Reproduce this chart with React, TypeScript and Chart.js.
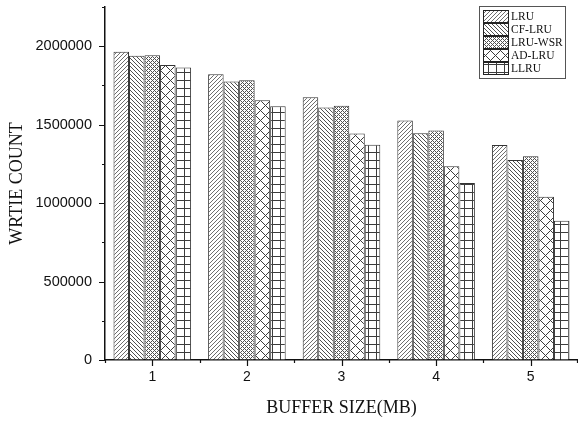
import React, { useEffect, useRef } from 'react';
import { Chart, registerables } from 'chart.js';

Chart.register(...registerables);

const categories = ['1', '2', '3', '4', '5'];
const seriesNames = ['LRU', 'CF-LRU', 'LRU-WSR', 'AD-LRU', 'LLRU'];
const lruValues = [1965000, 1822000, 1675000, 1527000, 1370000];
const cfLruValues = [1940000, 1775000, 1610000, 1445000, 1275000];
const lruWsrValues = [1943000, 1783000, 1620000, 1463000, 1298000];
const adLruValues = [1880000, 1655000, 1443000, 1235000, 1040000];
const llruValues = [1865000, 1617000, 1372000, 1128000, 887000];
const yMax = 2250000;
const yMajorStep = 500000;
const yMinorStep = 250000;

type PatternKind = 'slash' | 'backslash' | 'fine' | 'diamond' | 'grid';
const patternKinds: PatternKind[] = ['slash', 'backslash', 'fine', 'diamond', 'grid'];

function makePattern(kind: PatternKind): CanvasPattern | string {
  const size = kind === 'diamond' ? 10 : kind === 'grid' ? 8 : 4;
  const c = document.createElement('canvas');
  c.width = size;
  c.height = size;
  const ctx = c.getContext('2d');
  if (!ctx) return '#fff';
  const img = ctx.createImageData(size, size);
  for (let y = 0; y < size; y++) {
    for (let x = 0; x < size; x++) {
      let on = false;
      let col = 80;
      if (kind === 'slash') { on = (x + y) % size === 0; col = 110; }
      if (kind === 'backslash') { on = (x - y + size) % size === 0; col = 80; }
      if (kind === 'fine') { on = (x + y) % size === 0 || (x - y + size) % size === 0; col = 80; }
      if (kind === 'diamond') { on = (x + y) % size === 0 || (x - y + size) % size === 0; col = 60; }
      if (kind === 'grid') { on = x % size === 0 || y % size === 0; col = 60; }
      const i = (y * size + x) * 4;
      const v = on ? col : 255;
      img.data[i] = v;
      img.data[i + 1] = v;
      img.data[i + 2] = v;
      img.data[i + 3] = 255;
    }
  }
  ctx.putImageData(img, 0, 0);
  return ctx.createPattern(c, 'repeat') || '#fff';
}

const ticksPlugin = {
  id: 'customTicks',
  afterDraw(chart: any) {
    const { ctx, chartArea } = chart;
    const xs = chart.scales.x;
    const ys = chart.scales.y;
    ctx.save();
    ctx.strokeStyle = '#111';
    ctx.lineWidth = 1.2;
    ctx.beginPath();
    for (let v = 0; v <= yMax; v += yMinorStep) {
      const py = Math.round(ys.getPixelForValue(v)) + 0.5;
      const len = v % yMajorStep === 0 ? 6 : 3;
      ctx.moveTo(chartArea.left - len, py);
      ctx.lineTo(chartArea.left, py);
    }
    const n = categories.length;
    for (let i = 0; i < n; i++) {
      const px = Math.round(xs.getPixelForValue(i)) + 0.5;
      ctx.moveTo(px, chartArea.bottom);
      ctx.lineTo(px, chartArea.bottom + 6);
      const bx = i === 0 ? chartArea.left : (xs.getPixelForValue(i - 1) + xs.getPixelForValue(i)) / 2;
      const bpx = Math.round(bx) + 0.5;
      ctx.moveTo(bpx, chartArea.bottom);
      ctx.lineTo(bpx, chartArea.bottom + 3);
    }
    ctx.moveTo(chartArea.right - 0.5, chartArea.bottom);
    ctx.lineTo(chartArea.right - 0.5, chartArea.bottom + 3);
    ctx.stroke();
    ctx.restore();
  },
};

const legendPlugin = {
  id: 'boxLegend',
  afterDraw(chart: any) {
    const { ctx, chartArea } = chart;
    const boxRight = chartArea.right - 13;
    const boxLeft = boxRight - 86;
    const boxTop = 6;
    const rowH = 13;
    const boxH = rowH * seriesNames.length + 7;
    ctx.save();
    ctx.fillStyle = '#fff';
    ctx.fillRect(boxLeft, boxTop, boxRight - boxLeft, boxH);
    ctx.strokeStyle = '#555';
    ctx.lineWidth = 1;
    ctx.strokeRect(boxLeft + 0.5, boxTop + 0.5, boxRight - boxLeft, boxH);
    ctx.font = '11.5px "Liberation Serif", "Times New Roman", serif';
    ctx.textBaseline = 'middle';
    ctx.textAlign = 'left';
    chart.data.datasets.forEach((ds: any, i: number) => {
      const sy = boxTop + 4 + i * rowH;
      ctx.fillStyle = ds.backgroundColor;
      ctx.fillRect(boxLeft + 4, sy, 26, rowH);
      ctx.strokeStyle = '#222';
      ctx.strokeRect(boxLeft + 4.5, sy + 0.5, 25, rowH - 1);
      ctx.fillStyle = '#111';
      ctx.fillText(ds.label, boxLeft + 32, sy + rowH / 2 + 0.5);
    });
    ctx.restore();
  },
};

export default function App() {
  const canvasRef = useRef<HTMLCanvasElement | null>(null);

  useEffect(() => {
    const canvas = canvasRef.current;
    if (!canvas) return;
    const seriesValues = [lruValues, cfLruValues, lruWsrValues, adLruValues, llruValues];
    const chart = new Chart(canvas, {
      type: 'bar',
      data: {
        labels: categories,
        datasets: seriesNames.map((name, i) => ({
          label: name,
          data: seriesValues[i],
          backgroundColor: makePattern(patternKinds[i]) as any,
          borderColor: '#333',
          borderWidth: 1,
          categoryPercentage: 0.82,
          barPercentage: 1,
        })),
      },
      options: {
        responsive: false,
        animation: false,
        devicePixelRatio: 1,
        layout: { padding: { top: 7, right: 0, left: 0, bottom: 0 } },
        plugins: {
          legend: { display: false },
          tooltip: { enabled: false },
        },
        scales: {
          x: {
            afterFit: (s: any) => { s.height = 62; s.paddingLeft = 0; s.paddingRight = 0; },
            grid: { display: true, drawOnChartArea: false, drawTicks: false, color: 'transparent' },
            border: { display: true, color: '#111', width: 1.5 },
            ticks: {
              color: '#111',
              padding: 9,
              font: { family: '"Liberation Sans", Arial, sans-serif', size: 14 },
            },
            title: {
              display: true,
              text: 'BUFFER SIZE(MB)',
              color: '#111',
              font: { family: '"Liberation Serif", "Times New Roman", serif', size: 18 },
              padding: { top: 0, bottom: 3 },
            },
          },
          y: {
            min: 0,
            max: yMax,
            afterFit: (s: any) => { s.width = 105; s.paddingTop = 0; s.paddingBottom = 0; },
            grid: { display: true, drawOnChartArea: false, drawTicks: false, color: 'transparent' },
            border: { display: true, color: '#111', width: 1.5 },
            afterBuildTicks: (s: any) => {
              const t = [];
              for (let v = 0; v <= 2000000; v += yMajorStep) t.push({ value: v });
              s.ticks = t;
            },
            ticks: {
              color: '#111',
              padding: 13,
              font: { family: '"Liberation Sans", Arial, sans-serif', size: 14.5 },
              callback: (v: any) => String(v),
            },
            title: {
              display: true,
              text: 'WRTIE COUNT',
              color: '#111',
              font: { family: '"Liberation Serif", "Times New Roman", serif', size: 18 },
              padding: { top: 6, bottom: 0 },
            },
          },
        },
      },
      plugins: [ticksPlugin, legendPlugin],
    });
    return () => chart.destroy();
  }, []);

  return (
    <div style={{ position: 'absolute', left: 0, top: 0, width: 578, height: 422, background: '#fff' }}>
      <canvas ref={canvasRef} width={578} height={422} style={{ width: 578, height: 422, display: 'block' }} />
    </div>
  );
}
